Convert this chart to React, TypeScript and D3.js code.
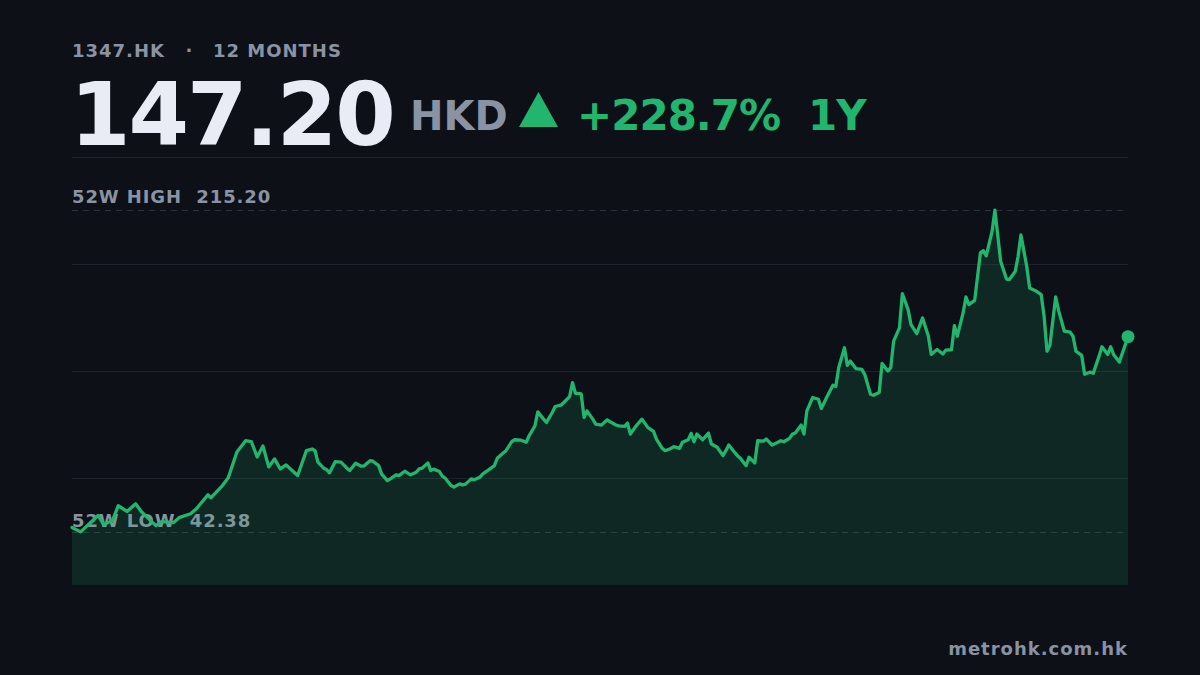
import { useEffect, useRef } from "react";
import * as d3 from "d3";

const TICKER = "1347.HK";
const PERIOD = "12 MONTHS";
const LAST_PRICE = 147.2;
const CURRENCY = "HKD";
const CHANGE_PCT = "+228.7%";
const RANGE_LABEL = "1Y";
const HIGH_52W = 215.2;
const LOW_52W = 42.38;
const SOURCE = "metrohk.com.hk";

// calendar day offset inside the 12-month window, one per close
const days = [
  0, 3, 9, 11, 14, 16, 19, 22, 24, 29,
  31, 35, 37, 41, 43, 47, 48, 52, 54, 57,
  60, 62, 64, 66, 68, 70, 72, 74, 78, 81,
  83, 84, 85, 87, 88, 89, 91, 93, 95, 96,
  98, 100, 101, 103, 104, 106, 107, 109, 110, 112,
  113, 115, 117, 119, 120, 121, 123, 124, 125, 127,
  128, 129, 131, 132, 134, 135, 136, 138, 139, 141,
  142, 144, 146, 147, 149, 150, 152, 153, 155, 157,
  158, 160, 161, 163, 164, 166, 167, 169, 170, 172,
  173, 174, 176, 177, 178, 180, 181, 183, 185, 186,
  188, 189, 191, 192, 193, 195, 197, 199, 201, 202,
  204, 205, 207, 208, 210, 211, 213, 214, 215, 216,
  218, 219, 220, 221, 223, 225, 226, 227, 229, 230,
  231, 233, 234, 236, 237, 239, 240, 242, 244, 245,
  246, 248, 249, 250, 252, 253, 254, 256, 258, 259,
  261, 263, 264, 265, 267, 268, 269, 271, 273, 274,
  276, 277, 279, 280, 282, 283, 284, 286, 287, 289,
  290, 292, 294, 296, 297, 299, 301, 302, 304, 305,
  306, 308, 309, 310, 312, 314, 315, 316, 318, 319,
  321, 323, 324, 326, 327, 328, 330, 331, 333, 335,
  336, 337, 338, 340, 341, 343, 345, 346, 347, 349,
  350, 352, 353, 355, 356, 358, 359, 360, 362, 365,
];

const closes = [
  44.78, 42.38, 51.25, 46.28, 48.58, 56.44, 53.39, 57.5, 53.23, 45.74,
  47.88, 47.35, 50.02, 52.16, 54.83, 62.32, 60.71, 67.29, 71.4, 85.3,
  91.34, 90.81, 82.63, 88.51, 77.28, 81.56, 76.21, 78.35, 72.63, 86.0,
  86.91, 86.0, 79.8, 76.59, 75.84, 74.08, 80.12, 79.8, 76.59, 75.31,
  79.26, 77.66, 77.9, 80.65, 80.33, 77.98, 73.54, 69.96, 70.87, 73.01,
  72.63, 74.98, 73.01, 74.45, 76.21, 76.59, 79.42, 75.31, 76.1, 74.77,
  72.31, 71.24, 67.29, 66.43, 68.2, 67.66, 68.03, 70.87, 70.33, 71.78,
  73.54, 75.68, 77.98, 81.93, 84.77, 86.0, 90.81, 91.88, 91.7, 90.49,
  94.02, 99.36, 106.84, 102.94, 101.18, 106.52, 109.73, 110.43, 111.87, 115.08,
  122.56, 116.84, 116.47, 103.85, 107.38, 102.94, 100.27, 99.73, 102.57, 101.5,
  99.8, 99.36, 99.04, 100.8, 94.92, 99.36, 102.94, 98.5, 96.37, 92.25,
  87.28, 86.0, 87.2, 88.13, 87.28, 90.49, 91.88, 95.3, 90.81, 94.92,
  91.88, 93.69, 95.46, 89.58, 87.81, 83.32, 86.0, 89.04, 85.14, 83.32,
  81.93, 77.98, 82.47, 79.42, 91.34, 91.1, 92.25, 89.04, 90.49, 91.34,
  90.81, 92.62, 94.92, 95.46, 99.73, 94.92, 107.38, 114.54, 113.63, 108.66,
  115.08, 121.12, 120.42, 130.58, 141.27, 131.81, 134.11, 130.04, 129.7, 127.0,
  116.31, 115.77, 117.21, 132.88, 128.76, 130.58, 144.8, 151.96, 170.3, 161.74,
  153.73, 148.91, 157.31, 147.47, 137.69, 140.36, 137.9, 139.99, 140.2, 153.19,
  147.47, 159.98, 168.53, 164.42, 166.72, 192.37, 193.44, 190.61, 203.6, 215.2,
  187.56, 178.16, 177.9, 182.22, 190.24, 201.84, 184.89, 173.34, 171.9, 169.76,
  158.16, 139.45, 142.5, 168.53, 161.37, 150.14, 149.61, 147.47, 139.45, 137.15,
  127.0, 128.23, 127.53, 136.78, 141.8, 137.69, 141.8, 137.69, 133.57, 147.2,
];

const BG = "#0d1017";
const GREEN = "#22b56d";
const GREY = "#8a93a3";
const WHITE = "#e9ecf4";
const FONT = "'DejaVu Sans', sans-serif";

export default function App() {
  const ref = useRef<SVGSVGElement>(null);

  useEffect(() => {
    if (!ref.current) return;
    const width = 1200;
    const height = 675;
    const left = 72;
    const right = 1128;
    const top = 157;
    const bottom = 585;

    const svg = d3.select(ref.current);
    svg.selectAll("*").remove();
    svg.attr("width", width).attr("height", height);

    svg.append("rect").attr("width", width).attr("height", height).attr("fill", BG);

    const series = days.map((d, i) => ({ day: d, close: closes[i] }));

    const x = d3
      .scaleLinear()
      .domain([0, d3.max(days) ?? 365])
      .range([left, right]);

    // pad the 52w range so high/low sit inside the plot
    const pad = (HIGH_52W - LOW_52W) * 0.165;
    const y = d3
      .scaleLinear()
      .domain([LOW_52W - pad, HIGH_52W + pad])
      .range([bottom, top]);

    // header
    const head = svg
      .append("g")
      .attr("font-family", FONT)
      .attr("font-weight", "bold");

    head
      .append("text")
      .attr("x", left)
      .attr("y", 57)
      .attr("font-size", 18)
      .attr("letter-spacing", 1)
      .attr("fill", GREY)
      .text(TICKER);
    head
      .append("text")
      .attr("x", 189)
      .attr("y", 57)
      .attr("font-size", 18)
      .attr("text-anchor", "middle")
      .attr("fill", GREY)
      .text("·");
    head
      .append("text")
      .attr("x", 213)
      .attr("y", 57)
      .attr("font-size", 18)
      .attr("letter-spacing", 1)
      .attr("fill", GREY)
      .text(PERIOD);

    head
      .append("text")
      .attr("x", left - 2)
      .attr("y", 145)
      .attr("font-size", 87)
      .attr("letter-spacing", -2)
      .attr("fill", WHITE)
      .text(LAST_PRICE.toFixed(2));

    head
      .append("text")
      .attr("x", 410)
      .attr("y", 130)
      .attr("font-size", 40)
      .attr("fill", GREY)
      .text(CURRENCY);

    head
      .append("path")
      .attr("d", "M519,127 L538.5,92 L558,127 Z")
      .attr("fill", GREEN);

    head
      .append("text")
      .attr("x", 577)
      .attr("y", 130)
      .attr("font-size", 42)
      .attr("letter-spacing", -1)
      .attr("fill", GREEN)
      .text(CHANGE_PCT);

    head
      .append("text")
      .attr("x", 808)
      .attr("y", 130)
      .attr("font-size", 42)
      .attr("letter-spacing", -1)
      .attr("fill", GREEN)
      .text(RANGE_LABEL);

    // gridlines at quarters of the plot
    const domain = y.domain();
    const gridVals = d3.range(4).map((i) => domain[1] - ((domain[1] - domain[0]) * i) / 4);
    svg
      .append("g")
      .attr("stroke", "#1d222c")
      .attr("stroke-width", 1)
      .selectAll("line")
      .data(gridVals)
      .join("line")
      .attr("x1", left)
      .attr("x2", right)
      .attr("y1", (d) => Math.round(y(d)) + 0.5)
      .attr("y2", (d) => Math.round(y(d)) + 0.5);

    // 52w high / low reference lines
    const refs = [
      { label: "52W HIGH", value: HIGH_52W, gap: 7 },
      { label: "52W LOW", value: LOW_52W, gap: 5 },
    ];
    svg
      .append("g")
      .attr("stroke", "#2b313c")
      .attr("stroke-dasharray", "6 5")
      .selectAll("line")
      .data(refs)
      .join("line")
      .attr("x1", left)
      .attr("x2", right)
      .attr("y1", (d) => Math.round(y(d.value)) + 0.5)
      .attr("y2", (d) => Math.round(y(d.value)) + 0.5);

    svg
      .append("g")
      .selectAll("text")
      .data(refs)
      .join("text")
      .attr("x", left)
      .attr("y", (d) => y(d.value) - d.gap)
      .attr("font-family", FONT)
      .attr("font-weight", "bold")
      .attr("font-size", 18)
      .attr("letter-spacing", 0.9)
      .attr("fill", GREY)
      .style("white-space", "pre")
      .text((d) => `${d.label}  ${d.value.toFixed(2)}`);

    // area + line
    const area = d3
      .area<{ day: number; close: number }>()
      .x((d) => x(d.day))
      .y0(bottom)
      .y1((d) => y(d.close));
    svg
      .append("path")
      .datum(series)
      .attr("d", area)
      .attr("fill", GREEN)
      .attr("fill-opacity", 0.15);

    const line = d3
      .line<{ day: number; close: number }>()
      .x((d) => x(d.day))
      .y((d) => y(d.close));
    svg
      .append("path")
      .datum(series)
      .attr("d", line)
      .attr("fill", "none")
      .attr("stroke", GREEN)
      .attr("stroke-width", 3.3)
      .attr("stroke-linejoin", "round")
      .attr("stroke-linecap", "round");

    const last = series[series.length - 1];
    svg
      .append("circle")
      .attr("cx", x(last.day))
      .attr("cy", y(last.close))
      .attr("r", 6.5)
      .attr("fill", GREEN);

    svg
      .append("text")
      .attr("x", right)
      .attr("y", 655)
      .attr("text-anchor", "end")
      .attr("font-family", FONT)
      .attr("font-weight", "bold")
      .attr("font-size", 18)
      .attr("letter-spacing", 1)
      .attr("fill", GREY)
      .text(SOURCE);
  }, []);

  return (
    <div style={{ position: "fixed", left: 0, top: 0, width: 1200, height: 675, background: BG }}>
      <svg ref={ref} style={{ display: "block" }} />
    </div>
  );
}
